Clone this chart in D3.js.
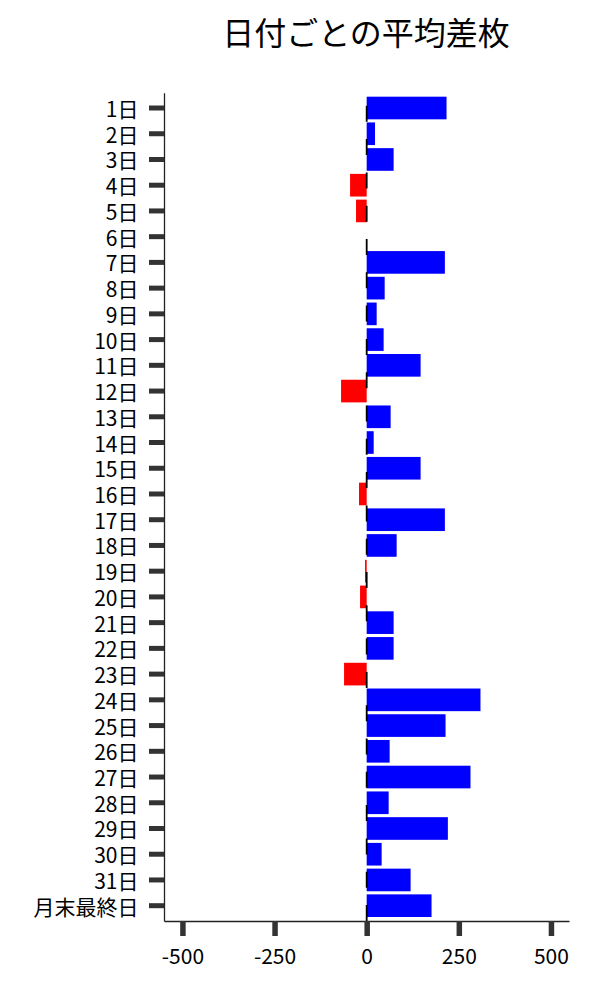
<!DOCTYPE html>
<html>
<head>
<meta charset="utf-8">
<script src="https://cdn.jsdelivr.net/npm/d3@7"></script>
<style>
  html, body { margin: 0; padding: 0; background: #fff; }
  svg { display: block; font-family: "Noto Sans CJK JP", "Noto Sans", sans-serif; }
</style>
</head>
<body>
<svg id="chart" width="600" height="1000"></svg>
<script>
const title = "日付ごとの平均差枚";
const categories = ["1日","2日","3日","4日","5日","6日","7日","8日","9日","10日",
  "11日","12日","13日","14日","15日","16日","17日","18日","19日","20日",
  "21日","22日","23日","24日","25日","26日","27日","28日","29日","30日","31日","月末最終日"];
const values = [216.7, 22.6, 73.1, -45.1, -28.9, 0, 212.2, 48.8, 27.1, 46,
  146.3, -69.5, 65, 19, 146.3, -20.8, 212.2, 81.3, -4.5, -18,
  73.1, 73.1, -61.4, 308.8, 214, 62.3, 281.7, 59.6, 220.3, 40.6, 119.2, 176];
const xTicks = [-500, -250, 0, 250, 500];
const xDomain = [-550, 549];

(function () {
const data = categories.map((c, i) => ({ cat: c, value: values[i] }));

const svg = d3.select("#chart");
const plotLeft = 164, plotRight = 569, plotTop = 92.7, plotBottom = 921;

const x = d3.scaleLinear().domain(xDomain).range([plotLeft, plotRight]);
const y = d3.scaleBand().domain(categories).range([plotTop, plotBottom])
  .paddingInner(0.12).paddingOuter(0.155);

// title
svg.append("text")
  .attr("x", 366).attr("y", 44.5)
  .attr("text-anchor", "middle")
  .attr("font-size", 32)
  .attr("fill", "#000")
  .text(title);

// bars
svg.append("g").selectAll("rect").data(data).join("rect")
  .attr("x", d => x(Math.min(0, d.value)))
  .attr("y", d => y(d.cat))
  .attr("width", d => Math.abs(x(d.value) - x(0)))
  .attr("height", y.bandwidth())
  .attr("fill", d => d.value >= 0 ? "#0000ff" : "#ff0000");

// dashed zero line (drawn bottom-up)
svg.append("line")
  .attr("x1", x(0)).attr("x2", x(0))
  .attr("y1", plotBottom).attr("y2", plotTop)
  .attr("stroke", "#000")
  .attr("stroke-width", 1.8)
  .attr("stroke-dasharray", "16,17.3");

// left axis
const yAxis = svg.append("g")
  .attr("transform", `translate(${plotLeft},0)`)
  .call(d3.axisLeft(y).tickSize(15).tickSizeOuter(0));
yAxis.select(".domain").attr("stroke", "#222").attr("stroke-width", 1.3);
yAxis.selectAll(".tick line").attr("stroke", "#333").attr("stroke-width", 5);
yAxis.selectAll(".tick text")
  .attr("x", -25.5)
  .attr("dy", null)
  .attr("dominant-baseline", "central")
  .attr("font-size", 21)
  .attr("font-family", "'Noto Sans CJK JP', 'Noto Sans', sans-serif")
  .attr("fill", "#000");

// bottom axis
const xAxis = svg.append("g")
  .attr("transform", `translate(0,${plotBottom})`)
  .call(d3.axisBottom(x).tickValues(xTicks).tickSize(15).tickSizeOuter(0)
    .tickFormat(d3.format("d")));
xAxis.select(".domain").attr("stroke", "#222").attr("stroke-width", 1.3);
xAxis.selectAll(".tick line").attr("stroke", "#333").attr("stroke-width", 5.5);
xAxis.selectAll(".tick text")
  .attr("y", 43)
  .attr("dy", null)
  .attr("font-size", 21)
  .attr("font-family", "'Noto Sans CJK JP', 'Noto Sans', sans-serif")
  .attr("fill", "#000")
  .text(d => d < 0 ? "-" + Math.abs(d) : String(d));
})();
</script>
</body>
</html>
